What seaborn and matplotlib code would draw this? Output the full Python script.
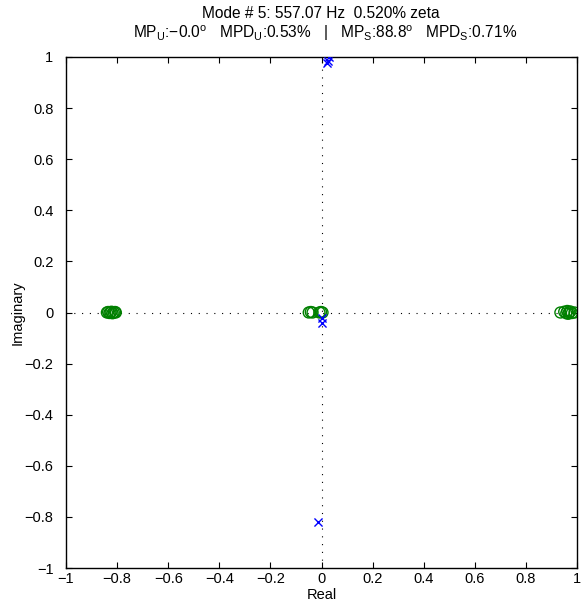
import numpy as np
import pandas as pd
import matplotlib
matplotlib.use("Agg")
import matplotlib.pyplot as plt
import seaborn as sns

# Zeros (green circles) on the real axis
zero_re = [-0.84, -0.835, -0.83, -0.826, -0.822, -0.818, -0.813, -0.808, -0.805,
           -0.05, -0.042, -0.035, -0.008, -0.002, 0.004,
           0.935, 0.95, 0.958, 0.962, 0.966, 0.97, 0.974, 0.98, 0.99]
zero_im = [0.0, 0.002, -0.002, 0.0, 0.003, -0.003, 0.0, 0.002, 0.0,
           0.0, 0.002, 0.0, 0.0, 0.002, 0.0,
           0.0, 0.003, -0.003, 0.006, -0.005, 0.0, 0.004, -0.002, 0.0]

# Poles (blue crosses)
pole_re = [0.03, 0.025, 0.02, 0.0, 0.0, -0.015]
pole_im = [1.0, 0.985, 0.975, -0.02, -0.04, -0.82]

ticks = [-1, -0.8, -0.6, -0.4, -0.2, 0, 0.2, 0.4, 0.6, 0.8, 1]
tick_labels = ["\u22121", "\u22120.8", "\u22120.6", "\u22120.4", "\u22120.2", "0",
               "0.2", "0.4", "0.6", "0.8", "1"]

title_line1 = "Mode # 5: 557.07 Hz  0.520% zeta"
title_line2 = (r"MP$_\mathregular{U}$:$-$0.0$^\mathregular{o}$   "
               r"MPD$_\mathregular{U}$:0.53%   |   "
               r"MP$_\mathregular{S}$:88.8$^\mathregular{o}$   "
               r"MPD$_\mathregular{S}$:0.71%")

sns.set_style("ticks")
plt.rcParams["font.family"] = ["Liberation Sans", "DejaVu Sans"]
plt.rcParams["mathtext.fontset"] = "custom"
plt.rcParams["mathtext.rm"] = "Liberation Sans"
plt.rcParams["mathtext.it"] = "Liberation Sans"
plt.rcParams["text.color"] = "black"
plt.rcParams["axes.labelcolor"] = "black"
plt.rcParams["xtick.color"] = "black"
plt.rcParams["ytick.color"] = "black"

fig = plt.figure(figsize=(5.85, 6.04), dpi=100)
ax = fig.add_axes([66 / 585, 1 - 568 / 604, (577 - 66) / 585, (568 - 57) / 604])

# dotted reference axes
ax.axhline(0, color="black", lw=0.8, ls=(0, (1, 6)), zorder=1)
ax.axvline(0, color="black", lw=0.8, ls=(0, (1, 6)), zorder=1)

zeros = pd.DataFrame({"Real": zero_re, "Imaginary": zero_im})
poles = pd.DataFrame({"Real": pole_re, "Imaginary": pole_im})

sns.scatterplot(data=zeros, x="Real", y="Imaginary", ax=ax, marker="o",
                s=62, facecolors="none", edgecolor=(0, 0.5, 0), linewidth=1.0,
                zorder=3)
sns.scatterplot(data=poles, x="Real", y="Imaginary", ax=ax, marker="x",
                s=34, color=(0, 0, 1), linewidth=1.0, zorder=4)

ax.set_xlim(-1, 1)
ax.set_ylim(-1, 1)
ax.set_xticks(ticks)
ax.set_xticklabels(tick_labels)
ax.set_yticks(ticks)
ax.set_yticklabels(tick_labels)
ax.tick_params(direction="in", length=4, width=0.8, labelsize=10.5,
               top=True, right=True, pad=3, color="black", labelcolor="black")
ax.tick_params(axis="y", pad=9)
for s in ax.spines.values():
    s.set_visible(True)
    s.set_linewidth(1.0)
    s.set_color("black")
ax.set_xlabel("Real", fontsize=10.5, labelpad=1, color="black")
ax.set_ylabel("Imaginary", fontsize=10.5, labelpad=0, color="black")

fig.text(321 / 585, 1 - 13 / 604, title_line1, ha="center", va="center",
         fontsize=11.2, color="black")
fig.text(325 / 585, 1 - 33 / 604, title_line2, ha="center", va="center",
         fontsize=11.2, color="black")

fig.savefig("out.png", dpi=100)
